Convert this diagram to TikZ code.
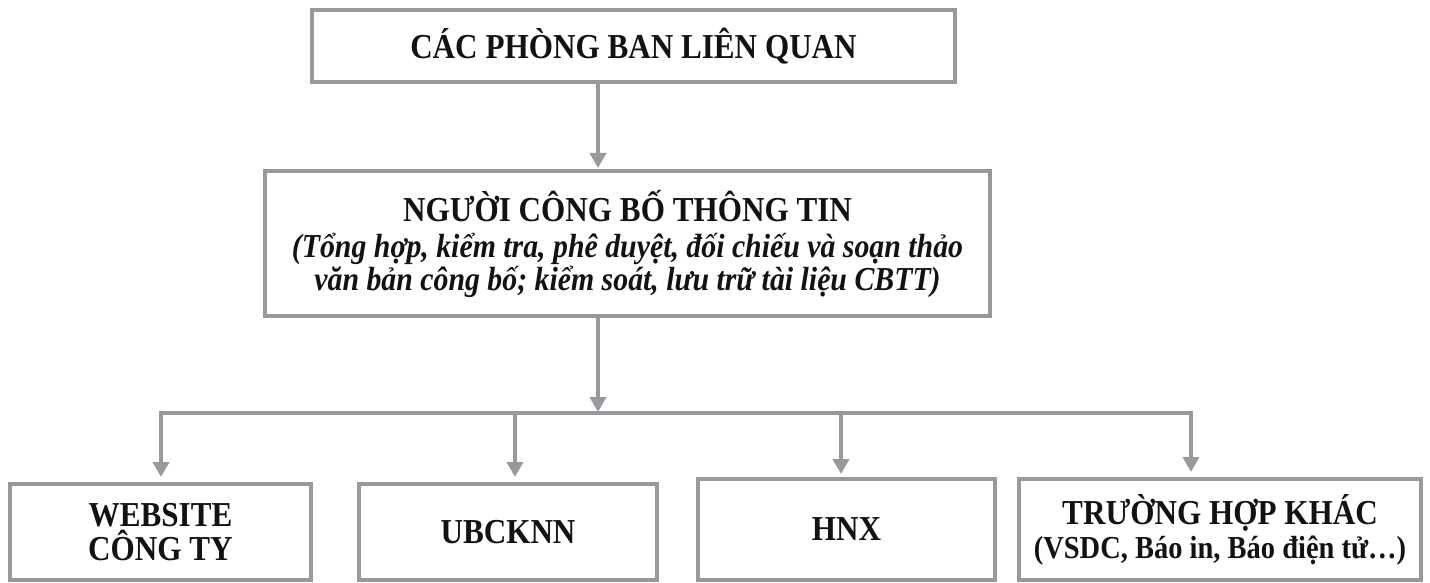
\documentclass[tikz,border=0pt]{standalone}
\usepackage{fontspec}
\setmainfont{Liberation Serif}[FakeStretch=0.89]
\usetikzlibrary{arrows.meta}
\definecolor{boxgray}{RGB}{152,152,157}
\definecolor{ink}{RGB}{18,18,18}
\begin{document}
\begin{tikzpicture}[x=1pt,y=-1pt,
  box/.style={draw=boxgray, line width=4pt, rectangle, inner sep=0pt, align=center, text=ink,
    font=\bfseries\fontsize{35}{34}\selectfont},
  arr/.style={draw=boxgray, line width=4pt, line join=miter, -{Triangle[length=15pt,width=16pt]}},
  arrboth/.style={draw=boxgray, line width=4pt, line join=miter, {Triangle[length=15pt,width=16pt]}-{Triangle[length=15pt,width=16pt]}}]
\fill[white] (0,0) rectangle (1430,583);
\useasboundingbox (0,0) rectangle (1430,583);

\node[box, minimum width=643pt, minimum height=72pt] (top) at (633.5,46) {CÁC PHÒNG BAN LIÊN QUAN};

\node[box, minimum width=725pt, minimum height=145pt] (mid) at (627.5,243.5)
  {NGƯỜI CÔNG BỐ THÔNG TIN\\[2pt]
   {\itshape\fontsize{33.5}{33}\selectfont (Tổng hợp, kiểm tra, phê duyệt, đối chiếu và soạn thảo}\\[-1pt]
   {\itshape\fontsize{33.5}{33}\selectfont văn bản công bố; kiểm soát, lưu trữ tài liệu CBTT)}};

\node[box, minimum width=301pt, minimum height=96pt] (b1) at (160.5,532) {WEBSITE\\CÔNG TY};
\node[box, minimum width=298pt, minimum height=96pt] (b2) at (508,532) {UBCKNN};
\node[box, minimum width=297pt, minimum height=101pt] (b3) at (846.5,529.5) {HNX};
\node[box, minimum width=402pt, minimum height=101pt] (b4) at (1220,529.5)
  {TRƯỜNG HỢP KHÁC\\{\fontsize{32}{33}\selectfont (VSDC, Báo in, Báo điện tử…)}};

\coordinate (j0) at (598,413);
\coordinate (j1) at (161,413);
\coordinate (j2) at (515,413);
\coordinate (j3) at (841,413);
\coordinate (j4) at (1191,413);

\draw[arr, shorten >=1pt] (top.south -| j0) -- (mid.north -| j0);
\draw[arr, shorten >=1pt] (mid.south -| j0) -- (j0);
\draw[arrboth, shorten >=5pt, shorten <=5pt] (b1.north -| j1) -- (j1) -- (j4) -- (b4.north -| j4);
\draw[arr, shorten >=5pt] (j2) -- (b2.north -| j2);
\draw[arr, shorten >=3pt] (j3) -- (b3.north -| j3);
\end{tikzpicture}
\end{document}
